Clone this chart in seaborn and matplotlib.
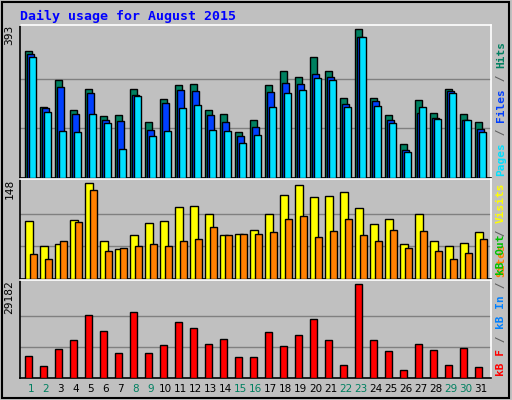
import matplotlib
matplotlib.use("Agg")
import matplotlib.pyplot as plt
import seaborn as sns
import numpy as np
import pandas as pd

days = list(range(1, 32))
hits = [335, 188, 258, 180, 236, 164, 166, 236, 147, 209, 247, 250, 180, 169, 121, 153, 247, 284, 266, 319, 282, 212, 393, 212, 166, 89, 206, 172, 236, 169, 147]
files = [327, 186, 241, 169, 226, 153, 150, 220, 127, 199, 234, 231, 167, 148, 110, 134, 228, 252, 250, 276, 266, 196, 374, 204, 153, 73, 172, 159, 231, 153, 129]
pages = [321, 174, 124, 121, 169, 145, 78, 218, 110, 124, 185, 193, 127, 124, 92, 113, 188, 225, 233, 265, 258, 188, 374, 190, 145, 68, 188, 156, 225, 153, 121]
visits = [88, 50, 53, 89, 145, 57, 46, 66, 85, 88, 109, 110, 99, 66, 68, 75, 98, 128, 142, 124, 126, 132, 107, 83, 91, 53, 98, 57, 50, 55, 72]
sites = [38, 30, 57, 87, 135, 43, 47, 50, 53, 50, 57, 61, 79, 66, 68, 68, 71, 91, 96, 63, 73, 91, 66, 57, 74, 47, 73, 43, 31, 39, 60]
kbytes = [6800, 3600, 9100, 11900, 19500, 14800, 7800, 20700, 7800, 10300, 17400, 15600, 10600, 12200, 6500, 6500, 14400, 9900, 13300, 18500, 11900, 4200, 29182, 11900, 8500, 2600, 10600, 8700, 4200, 9300, 3300]
weekend = [1, 2, 8, 9, 15, 16, 22, 23, 29, 30]

BG = "#C0C0C0"
GRID = "#808080"
mono = "DejaVu Sans Mono"

fig = plt.figure(figsize=(5.12, 4.0), dpi=100, facecolor=BG)
fig.patches.append(plt.Rectangle((0.004, 0.004), 0.99, 0.99, transform=fig.transFigure,
                                 fill=False, edgecolor="black", linewidth=1.5))

W = 512; H = 400
def ax_at(top, bot):
    return fig.add_axes([20 / W, 1 - bot / H, 471 / W, (bot - top) / H])

ax1 = ax_at(25, 178)
ax2 = ax_at(179, 279)
ax3 = ax_at(280, 378)

d = np.array(days, dtype=float)
xlim = (0.413, 31.813)

def bars(ax, vals, off, width, color):
    df = pd.DataFrame({"x": d + off, "y": vals})
    sns.barplot(data=df, x="x", y="y", native_scale=True, orient="x", width=width,
                color=color, edgecolor="black", linewidth=1, saturation=1,
                errorbar=None, ax=ax, zorder=3)

def style(ax, vmax, top_frac):
    ax.set_facecolor(BG)
    ax.set_xlim(*xlim)
    ax.set_ylim(0, vmax * top_frac)
    for f in (1 / 3, 2 / 3):
        ax.axhline(vmax * f, color=GRID, linewidth=1, zorder=1)
    ax.set_xlabel(""); ax.set_ylabel("")
    ax.set_yticks([])
    ax.set_xticks([])
    for s in ("left", "bottom"):
        ax.spines[s].set_color("black")
    for s in ("top", "right"):
        ax.spines[s].set_color("white")
    for s in ax.spines.values():
        s.set_linewidth(1.2)

bars(ax1, hits, 0.0, 0.467, "#008060")
bars(ax1, files, 0.133, 0.467, "#0040FF")
bars(ax1, pages, 0.267, 0.467, "#00E0FF")
style(ax1, 393, 1.03)

bars(ax2, visits, 0.03, 0.533, "#FFFF00")
bars(ax2, sites, 0.30, 0.467, "#FF8000")
style(ax2, 148, 1.025)

bars(ax3, kbytes, 0.0, 0.467, "#FF0000")
style(ax3, 29182, 1.047)

fig.text(20 / W, 1 - 16 / H, "Daily usage for August 2015", color="#0000FF",
         family=mono, fontweight="bold", fontsize=9.5, va="center", ha="left")

for ax, lab in ((ax1, "393"), (ax2, "148"), (ax3, "29182")):
    ax.text(-0.012, 1.0, lab, transform=ax.transAxes, rotation=90, ha="right", va="top",
            family=mono, fontsize=8, color="black")

fig.canvas.draw()
renderer = fig.canvas.get_renderer()

def right_label(ax, parts):
    pos = ax.get_position()
    x = pos.x1 + 10 / W
    y = pos.y0 + 2 / H
    for txt, col in parts:
        t = fig.text(x, y, txt, rotation=90, ha="center", va="bottom", family=mono,
                     fontsize=8, fontweight="bold", color=col)
        ext = t.get_window_extent(renderer)
        y += ext.height / H
right_label(ax1, [("Pages", "#00E0FF"), (" / ", "#606060"), ("Files", "#0040FF"),
                  (" / ", "#606060"), ("Hits", "#008060")])
right_label(ax2, [("Sites", "#FF8000"), (" / ", "#606060"), ("Visits", "#FFFF00")])
right_label(ax3, [("kB F", "#FF0000"), (" / ", "#606060"), ("kB In", "#0080FF"),
                  (" / ", "#606060"), ("kB Out", "#00C000")])

for day in days:
    x = day + 0.13
    xf = (20 + (x - xlim[0]) / (xlim[1] - xlim[0]) * 471) / W
    fig.text(xf, 1 - 389 / H, str(day), ha="center", va="center", fontsize=7.5,
             color="#008060" if day in weekend else "black")

fig.savefig("out.png", dpi=100, facecolor=BG)
